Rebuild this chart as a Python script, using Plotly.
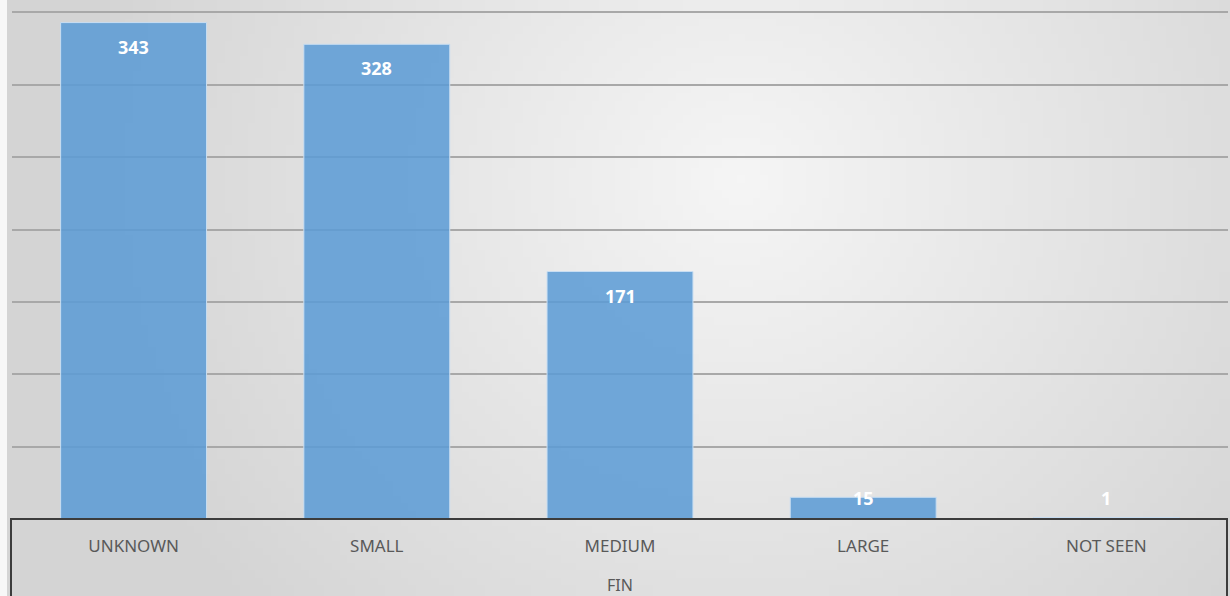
import base64, struct, zlib, math
import plotly.graph_objects as go

categories = ["UNKNOWN", "SMALL", "MEDIUM", "LARGE", "NOT SEEN"]
values = [343, 328, 171, 15, 1]
axis_title = "FIN"
y_max = 351
y_step = 50


def png_uri(w, h, func):
    raw = bytearray()
    for j in range(h):
        raw.append(0)
        for i in range(w):
            v = func(i / (w - 1), j / (h - 1))
            raw += bytes((v, v, v))
    def chunk(t, d):
        c = struct.pack(">I", len(d)) + t + d
        return c + struct.pack(">I", zlib.crc32(t + d) & 0xffffffff)
    data = b"\x89PNG\r\n\x1a\n" + chunk(b"IHDR", struct.pack(">IIBBBBB", w, h, 8, 2, 0, 0, 0))
    data += chunk(b"IDAT", zlib.compress(bytes(raw), 9)) + chunk(b"IEND", b"")
    return "data:image/png;base64," + base64.b64encode(data).decode()


def grad(u, v):
    cx, cy = 0.6, 0.3
    dx = (u - cx) * 2.0
    dy = (v - cy) * 1.0
    r = min(1.0, math.sqrt(dx * dx + dy * dy) / 1.1)
    val = 245 - (245 - 212) * r
    return int(round(val))


bg = png_uri(160, 80, grad)

W, H = 1230, 596
L, R, T, B = 12, 2, 11, 77
pw, ph = W - L - R, H - T - B
px_per_unit = ph / y_max

fig = go.Figure()
fig.add_trace(go.Bar(
    x=categories, y=values,
    marker=dict(color="rgba(91,155,213,0.86)", line=dict(color="#c9def2", width=1)),
    hoverinfo="x+y",
))

font = "Noto Sans, Open Sans, sans-serif"
annotations = []
for c, v in zip(categories, values):
    if v * px_per_unit > 45:
        annotations.append(dict(x=c, y=v, yshift=-24, yanchor="middle"))
    else:
        annotations.append(dict(x=c, y=0, yshift=21, yanchor="middle"))
for a, v in zip(annotations, values):
    a.update(text=f"<b>{v}</b>", showarrow=False, xref="x", yref="y",
             font=dict(family=font, size=18, color="white"))
annotations.append(dict(text=axis_title, x=0.5, xref="paper", y=0, yref="paper",
                        yshift=-(585 - 519), yanchor="middle", showarrow=False,
                        font=dict(family=font, size=16, color="#595959")))

fig.update_layout(
    width=W, height=H,
    margin=dict(l=L, r=R, t=T, b=B),
    paper_bgcolor="#f7f7f7",
    plot_bgcolor="rgba(0,0,0,0)",
    bargap=0.4,
    showlegend=False,
    annotations=annotations,
    images=[dict(source=bg, xref="paper", yref="paper",
                 x=(7 - L) / pw, y=1 + T / ph,
                 sizex=(W - 7) / pw, sizey=H / ph,
                 xanchor="left", yanchor="top", sizing="stretch", layer="below")],
    shapes=[dict(type="rect", xref="paper", yref="paper",
                 x0=(11 - L) / pw, x1=(1227 - L) / pw, y0=0, y1=-0.3,
                 line=dict(color="#3c3c3c", width=2), fillcolor="rgba(0,0,0,0)",
                 layer="above")],
    xaxis=dict(showline=False, ticks="", showgrid=False,
               tickfont=dict(family=font, size=17, color="#595959"),
               ticklabelstandoff=15),
    yaxis=dict(range=[0, y_max], dtick=y_step, showticklabels=False,
               gridcolor="#a8a8a8", gridwidth=1.5, zeroline=False, showline=False),
)

fig.write_html("out.html", config={"displayModeBar": False},
               post_script="document.body.style.margin='0';document.body.style.overflow='hidden';")
